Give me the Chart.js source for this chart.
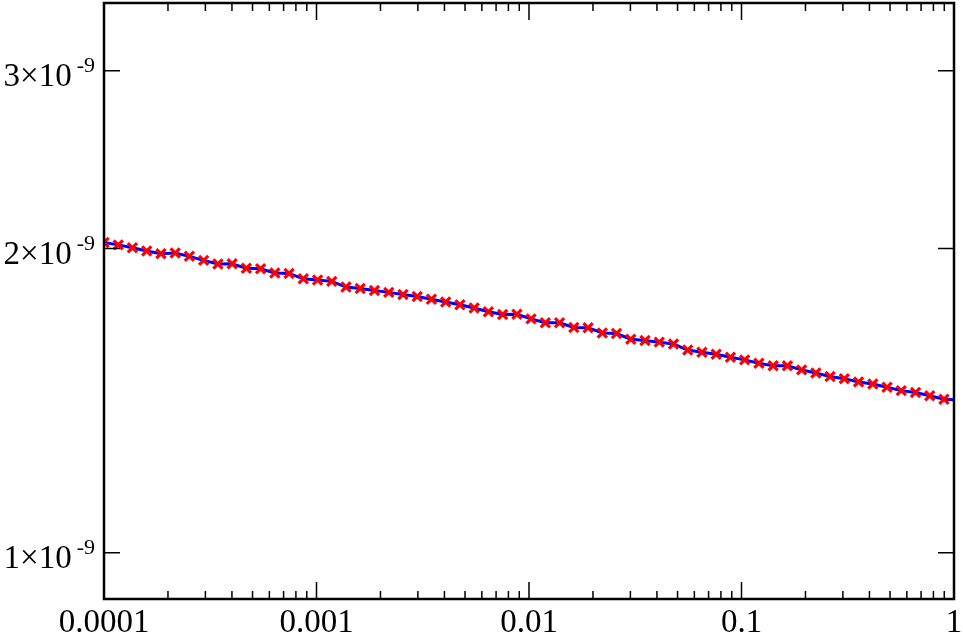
<!DOCTYPE html>
<html>
<head>
<meta charset="utf-8">
<script src="https://cdn.jsdelivr.net/npm/chart.js@4/dist/chart.umd.min.js"></script>
<style>
  html, body { margin: 0; padding: 0; background: #fff; }
  #wrap { width: 963px; height: 635px; position: relative; }
</style>
</head>
<body>
<div id="wrap"><canvas id="chart"></canvas></div>
<script>
const xValues = [
  1.000e-4, 1.167e-4, 1.361e-4, 1.589e-4, 1.854e-4, 2.163e-4, 2.523e-4, 2.944e-4, 3.436e-4, 4.009e-4,
  4.677e-4, 5.458e-4, 6.368e-4, 7.430e-4, 8.670e-4, 1.012e-3, 1.180e-3, 1.377e-3, 1.607e-3, 1.875e-3,
  2.188e-3, 2.553e-3, 2.979e-3, 3.475e-3, 4.055e-3, 4.732e-3, 5.521e-3, 6.442e-3, 7.516e-3, 8.770e-3,
  1.023e-2, 1.194e-2, 1.393e-2, 1.626e-2, 1.897e-2, 2.213e-2, 2.582e-2, 3.013e-2, 3.516e-2, 4.102e-2,
  4.786e-2, 5.585e-2, 6.516e-2, 7.603e-2, 8.872e-2, 0.1035, 0.1208, 0.1409, 0.1644, 0.1919,
  0.2239, 0.2612, 0.3048, 0.3556, 0.4150, 0.4842, 0.5649, 0.6592, 0.7691, 0.8974
];
// y values in units of 1e-9
const yValues = [
  2.028, 2.017, 2.004, 1.989, 1.977, 1.980, 1.965, 1.947, 1.931, 1.932,
  1.912, 1.910, 1.892, 1.890, 1.867, 1.862, 1.856, 1.832, 1.826, 1.818,
  1.810, 1.801, 1.793, 1.782, 1.771, 1.760, 1.747, 1.732, 1.721, 1.722,
  1.704, 1.689, 1.689, 1.671, 1.670, 1.650, 1.648, 1.627, 1.622, 1.616,
  1.609, 1.587, 1.579, 1.572, 1.561, 1.552, 1.540, 1.531, 1.531, 1.517,
  1.506, 1.494, 1.487, 1.476, 1.469, 1.458, 1.447, 1.441, 1.430, 1.419
];
// the blue curve runs on to the right edge
const lineEndX = [1];
const lineEndY = [1.417];

const Y_UNIT = 1e-9;
const xTickValues = [1e-4, 1e-3, 1e-2, 1e-1, 1];
const xTickLabels = ["0.0001", "0.001", "0.01", "0.1", "1"];
const yTickValues = [1e-9, 2e-9, 3e-9];
const yTickMantissas = ["1", "2", "3"];
const yTickExponent = "-9";

const FONT = '"Liberation Serif", "DejaVu Serif", serif';

const markerPoints = xValues.map((x, i) => ({ x, y: yValues[i] * Y_UNIT }));
const linePoints = markerPoints.concat(
  lineEndX.map((x, i) => ({ x, y: lineEndY[i] * Y_UNIT }))
);

// frame, inward ticks on all four sides, and the tick labels
const framePlugin = {
  id: "frame",
  afterDraw(chart) {
    const { ctx, chartArea, scales } = chart;
    const { left, right, top, bottom } = chartArea;
    const xs = scales.x;
    const ys = scales.y;

    ctx.save();
    ctx.strokeStyle = "#000";
    ctx.lineCap = "butt";

    // ticks
    ctx.lineWidth = 1.5;
    ctx.beginPath();
    xTickValues.forEach((v, i) => {
      const px = xs.getPixelForValue(v);
      ctx.moveTo(px, bottom); ctx.lineTo(px, bottom - 17);
      ctx.moveTo(px, top); ctx.lineTo(px, top + 17);
      if (i < xTickValues.length - 1) {
        for (let m = 2; m <= 9; m++) {
          const mx = xs.getPixelForValue(v * m);
          ctx.moveTo(mx, bottom); ctx.lineTo(mx, bottom - 8);
          ctx.moveTo(mx, top); ctx.lineTo(mx, top + 8);
        }
      }
    });
    yTickValues.forEach((v) => {
      const py = ys.getPixelForValue(v);
      ctx.moveTo(left, py); ctx.lineTo(left + 16, py);
      ctx.moveTo(right, py); ctx.lineTo(right - 16, py);
    });
    ctx.stroke();

    // frame
    ctx.lineWidth = 2.5;
    ctx.strokeRect(left, top, right - left, bottom - top);

    // x labels
    ctx.fillStyle = "#000";
    ctx.font = "33px " + FONT;
    ctx.textAlign = "center";
    ctx.textBaseline = "alphabetic";
    xTickValues.forEach((v, i) => {
      ctx.fillText(xTickLabels[i], xs.getPixelForValue(v), 632);
    });

    // y labels: mantissa x 10 with a raised exponent
    ctx.textAlign = "right";
    yTickValues.forEach((v, i) => {
      const py = ys.getPixelForValue(v);
      ctx.font = "22px " + FONT;
      const expW = ctx.measureText(yTickExponent).width;
      ctx.fillText(yTickExponent, left - 9, py + 1);
      ctx.font = "33px " + FONT;
      ctx.fillText(yTickMantissas[i] + "\u00d710", left - 9 - expW - 5, py + 15.5);
    });

    ctx.restore();
  },
};

new Chart(document.getElementById("chart"), {
  type: "scatter",
  data: {
    datasets: [
      {
        label: "points",
        data: markerPoints,
        showLine: false,
        pointStyle: "crossRot",
        pointRadius: 6.5,
        pointBorderWidth: 3.2,
        borderColor: "#ff0000",
        backgroundColor: "#ff0000",
        order: 0,
      },
      {
        label: "curve",
        data: linePoints,
        showLine: true,
        pointRadius: 0,
        borderColor: "#0000ff",
        borderWidth: 3,
        tension: 0,
        order: 1,
      },
    ],
  },
  options: {
    responsive: true,
    maintainAspectRatio: false,
    animation: false,
    events: [],
    layout: {
      autoPadding: false,
      padding: { left: 104, right: 9, top: 3, bottom: 36 },
    },
    scales: {
      x: {
        type: "logarithmic",
        min: 1e-4,
        max: 1,
        display: false,
      },
      y: {
        type: "logarithmic",
        min: 0.9e-9,
        max: 3.5e-9,
        display: false,
      },
    },
    plugins: {
      legend: { display: false },
      tooltip: { enabled: false },
    },
  },
  plugins: [framePlugin],
});
</script>
</body>
</html>
